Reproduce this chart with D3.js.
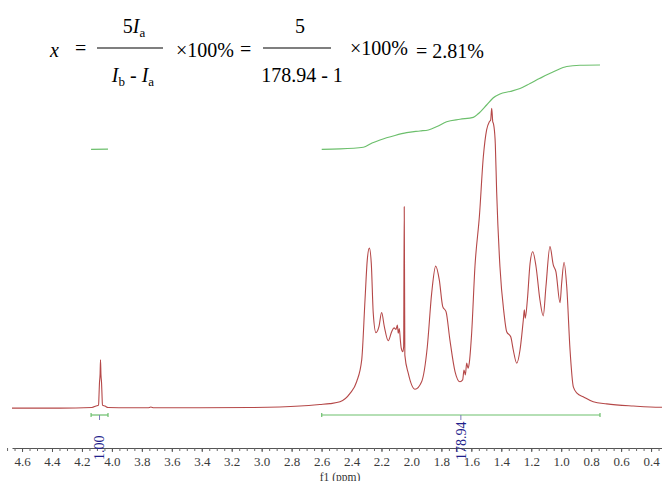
<!DOCTYPE html>
<html>
<head>
<meta charset="utf-8">
<script src="https://cdn.jsdelivr.net/npm/d3@7"></script>
<style>
body { margin: 0; background: #fff; }
svg { display: block; }
svg text { font-family: "Liberation Serif", "Tinos", "Times New Roman", "DejaVu Serif", serif; }
</style>
</head>
<body>
<script>
// 1H NMR spectrum: [ppm, relative intensity]
var spectrum = [
  [4.667, -0.2], [4.347, -0.2], [4.133, 0.0], [4.106, 0.5], [4.089, 0.8],
  [4.086, 4.2], [4.083, 8.2], [4.079, 10.9], [4.076, 15.9], [4.073, 10.9],
  [4.069, 8.2], [4.066, 4.2], [4.063, 0.8], [4.046, 0.5], [4.026, 0.0],
  [3.879, -0.1], [3.759, -0.1], [3.740, 0.15], [3.720, -0.1], [3.412, -0.1],
  [3.078, 0.0], [2.744, 0.5], [2.611, 1.0], [2.544, 1.3], [2.477, 1.9],
  [2.410, 4.7], [2.366, 8.6], [2.332, 15.9], [2.310, 35.9], [2.295, 49.2],
  [2.281, 53.2], [2.268, 48.1], [2.255, 31.5], [2.237, 25.0], [2.217, 27.0],
  [2.199, 31.7], [2.181, 27.0], [2.155, 22.3], [2.132, 25.3], [2.116, 26.6],
  [2.103, 26.1], [2.094, 27.5], [2.088, 24.8], [2.081, 26.4], [2.074, 22.5],
  [2.068, 19.8], [2.058, 18.6], [2.052, 20.3], [2.048, 67.0], [2.044, 17.5],
  [2.021, 11.4], [1.976, 6.1], [1.932, 8.6], [1.894, 20.3], [1.865, 38.1],
  [1.838, 47.2], [1.814, 42.6], [1.791, 33.7], [1.769, 32.0], [1.743, 22.5],
  [1.709, 12.0], [1.676, 8.6], [1.658, 9.2], [1.649, 12.5], [1.640, 10.9],
  [1.631, 14.8], [1.622, 13.1], [1.614, 14.8], [1.598, 24.8], [1.576, 47.0],
  [1.546, 64.0], [1.520, 83.7], [1.498, 92.7], [1.480, 95.4],
  [1.471, 96.0], [1.464, 99.9], [1.457, 95.4], [1.453, 94.9], [1.449, 93.8],
  [1.440, 88.0], [1.431, 72.0], [1.409, 47.0], [1.382, 31.5], [1.364, 25.3],
  [1.337, 23.6], [1.320, 19.2], [1.297, 14.8], [1.275, 19.2], [1.253, 29.2],
  [1.246, 32.6], [1.240, 29.8], [1.226, 35.9], [1.208, 48.1], [1.190, 52.0],
  [1.168, 47.0], [1.142, 35.9], [1.120, 30.6], [1.102, 40.3], [1.075, 53.7],
  [1.053, 47.6], [1.035, 45.3], [1.008, 35.0], [0.997, 41.5], [0.981, 48.5],
  [0.963, 40.3], [0.941, 19.2], [0.919, 6.9], [0.893, 4.7], [0.853, 3.6],
  [0.786, 1.9], [0.696, 1.2], [0.519, 0.5], [0.340, 0.1], [0.327, 0.1]
];

// integral curves (green), cumulative % of the region
var integralSmall = [[4.139, 0], [4.026, 0.3]];
var integralBig = [
  [2.599, 0], [2.477, 0.4], [2.321, 2.4], [2.263, 7.4], [2.210, 11.0],
  [2.110, 16.3], [2.032, 19.6], [1.943, 21.6], [1.887, 22.8], [1.829, 26.9],
  [1.765, 32.5], [1.676, 35.4], [1.587, 37.7], [1.556, 41.6], [1.498, 52.2],
  [1.455, 60.5], [1.409, 65.2], [1.342, 68.2], [1.275, 71.7], [1.208, 77.6],
  [1.142, 83.7], [1.041, 92.3], [0.963, 97.6], [0.875, 99.1], [0.741, 99.4]
];

// integration regions and their values
var intFrom = [4.139, 2.599];
var intTo = [4.026, 0.741];
var intLabels = ["1.00", "178.94"];

// axis ticks
var tickValues = [4.6, 4.4, 4.2, 4.0, 3.8, 3.6, 3.4, 3.2, 3.0, 2.8, 2.6, 2.4, 2.2, 2.0, 1.8, 1.6, 1.4, 1.2, 1.0, 0.8, 0.6, 0.4];
var minorTicks = d3.range(0, 88).map(function(i) { return +(0.35 + i * 0.05).toFixed(2); });

var serif = "'Liberation Serif', 'Tinos', 'Times New Roman', 'DejaVu Serif', serif";

var width = 662, height = 481;
var svg = d3.select("body").append("svg")
    .attr("width", width)
    .attr("height", height)
    .attr("font-family", serif);

// scales
var x = d3.scaleLinear().domain([4.667, 0.327]).range([12, 662]);
var y = d3.scaleLinear().domain([0, 100]).range([407.5, 108]);
var yInt = d3.scaleLinear().domain([0, 100]).range([149.3, 64.5]);

var axisY = 448;

// minor ticks
svg.append("g")
    .attr("transform", "translate(0," + axisY + ")")
    .call(d3.axisBottom(x).tickValues(minorTicks).tickSize(3).tickSizeOuter(0).tickFormat(""))
    .call(function(g) {
      g.select(".domain").attr("stroke", "#555");
      g.selectAll(".tick line").attr("stroke", "#666");
    });

// labelled ticks
svg.append("g")
    .attr("transform", "translate(0," + axisY + ")")
    .call(d3.axisBottom(x).tickValues(tickValues).tickSize(4).tickPadding(5).tickSizeOuter(0).tickFormat(d3.format(".1f")))
    .call(function(g) {
      g.attr("font-family", serif);
      g.select(".domain").remove();
      g.selectAll(".tick line").attr("stroke", "#555");
      g.selectAll(".tick text")
        .attr("font-size", 13)
        .attr("fill", "#3a3a3a");
    });

svg.append("text")
    .attr("x", 340)
    .attr("y", 480.5)
    .attr("text-anchor", "middle")
    .attr("font-size", 11.5)
    .attr("fill", "#333")
    .text("f1 (ppm)");

// spectrum
var line = d3.line()
    .x(function(d) { return x(d[0]); })
    .y(function(d) { return y(d[1]); })
    .curve(d3.curveMonotoneX);

svg.append("path")
    .datum(spectrum)
    .attr("fill", "none")
    .attr("stroke", "#b54848")
    .attr("stroke-width", 1.1)
    .attr("d", line);

// integral curves
var intLine = d3.line()
    .x(function(d) { return x(d[0]); })
    .y(function(d) { return yInt(d[1]); })
    .curve(d3.curveMonotoneX);

[integralSmall, integralBig].forEach(function(c) {
  svg.append("path")
      .datum(c)
      .attr("fill", "none")
      .attr("stroke", "#6cbf6c")
      .attr("stroke-width", 1.2)
      .attr("d", intLine);
});

// integration brackets with values
var bracketY = 415;
intFrom.forEach(function(f, i) {
  var x1 = x(f), x2 = x(intTo[i]), xm = (x1 + x2) / 2;
  var g = svg.append("g").attr("stroke", "#6cbf6c").attr("stroke-width", 1.2);
  g.append("line").attr("x1", x1).attr("x2", x2).attr("y1", bracketY).attr("y2", bracketY);
  g.append("line").attr("x1", x1).attr("x2", x1).attr("y1", bracketY - 2).attr("y2", bracketY + 2);
  g.append("line").attr("x1", x2).attr("x2", x2).attr("y1", bracketY - 2).attr("y2", bracketY + 2);
  svg.append("line")
      .attr("x1", xm).attr("x2", xm)
      .attr("y1", bracketY).attr("y2", bracketY + 5)
      .attr("stroke", "#7a7ab8").attr("stroke-width", 1);
  svg.append("text")
      .attr("transform", "translate(" + xm + ",460)rotate(-90)")
      .attr("dy", "0.35em")
      .attr("font-size", 14)
      .attr("fill", "#1f1f8c")
      .text(intLabels[i]);
});

// formula at the top
var f = svg.append("g").attr("fill", "#000").attr("font-size", 20).attr("font-family", serif);

function addText(xp, yp, parts, anchor) {
  var t = f.append("text").attr("x", xp).attr("y", yp).attr("text-anchor", anchor || "start");
  parts.forEach(function(p) {
    var s = t.append("tspan").text(p.t);
    if (p.i) s.attr("font-style", "italic");
    if (p.sub) s.attr("font-size", 13).attr("dy", 4);
    if (p.up) s.attr("dy", -4);
  });
}

addText(50, 57, [{t: "x", i: true}]);
addText(75, 55, [{t: "="}]);
f.append("line").attr("x1", 97).attr("x2", 163).attr("y1", 48).attr("y2", 48).attr("stroke", "#000").attr("stroke-width", 1.2);
addText(134, 33, [{t: "5"}, {t: "I", i: true}, {t: "a", sub: true}], "middle");
addText(133, 82, [{t: "I", i: true}, {t: "b", sub: true}, {t: " - ", up: true}, {t: "I", i: true}, {t: "a", sub: true}], "middle");
addText(176, 57, [{t: "×100%"}]);
addText(240, 56, [{t: "="}]);
f.append("line").attr("x1", 263).attr("x2", 331).attr("y1", 48).attr("y2", 48).attr("stroke", "#000").attr("stroke-width", 1.2);
addText(300, 33, [{t: "5"}], "middle");
addText(302, 82, [{t: "178.94  - 1"}], "middle");
addText(350, 55, [{t: "×100%"}]);
addText(416, 58, [{t: "= 2.81%"}]);
</script>
</body>
</html>
